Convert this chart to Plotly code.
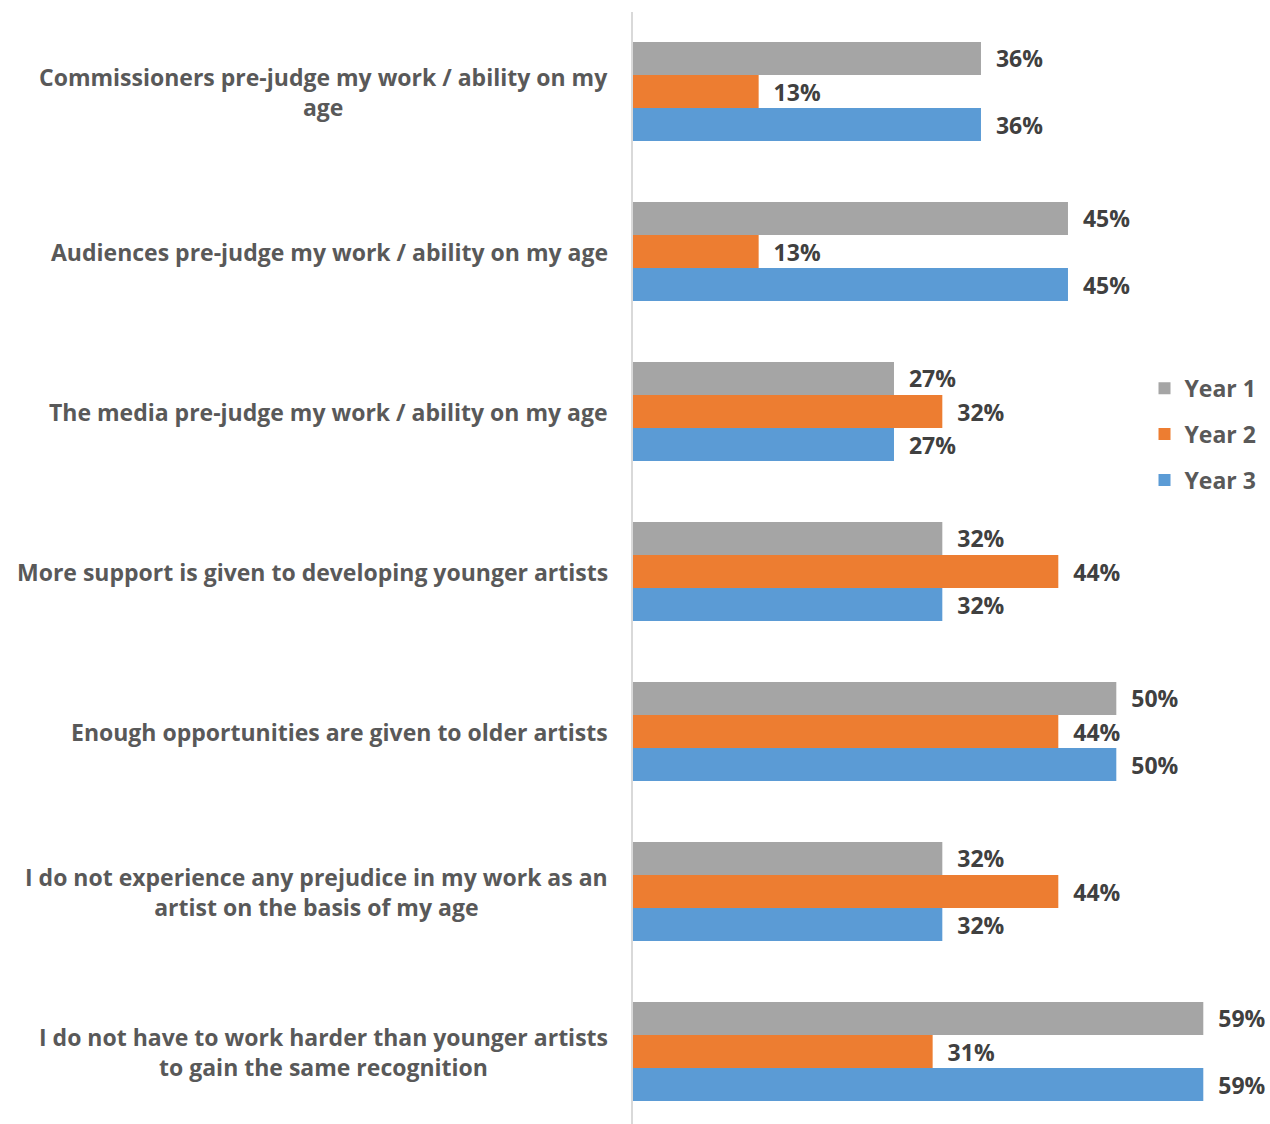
import plotly.graph_objects as go

# Survey statements (top to bottom) and share agreeing per year (%)
categories = [
    "Commissioners pre-judge my work / ability on my<br>age",
    "Audiences pre-judge my work / ability on my age",
    "The media pre-judge my work / ability on my age",
    "More support is given to developing younger artists",
    "Enough opportunities are given to older artists",
    "I do not experience any prejudice in my work as an<br>artist on the basis of my age",
    "I do not have to work harder than younger artists<br>to gain the same recognition",
]
year1 = [36, 45, 27, 32, 50, 32, 59]
year2 = [13, 13, 32, 44, 44, 44, 31]
year3 = [36, 45, 27, 32, 50, 32, 59]

series = [
    ("Year 1", year1, "#A5A5A5"),
    ("Year 2", year2, "#ED7D31"),
    ("Year 3", year3, "#5B9BD5"),
]

FONT = "Open Sans"
TEXT_GREY = "#595959"
LABEL_DARK = "#404040"

fig = go.Figure()
for name, values, color in series:
    fig.add_trace(go.Bar(
        name=name,
        y=categories,
        x=values,
        orientation="h",
        marker=dict(color=color, line=dict(width=0)),
        text=values,
        texttemplate="\u00a0\u00a0%{x}%",
        textposition="outside",
        cliponaxis=False,
        textfont=dict(family=FONT, size=23, color=LABEL_DARK, weight="bold"),
        legendgroup=name,
    ))

# Category labels: right-anchored, lines centred within each label
for cat in categories:
    fig.add_annotation(
        x=0, xref="paper", xshift=-23, xanchor="right",
        y=cat, yref="y", yanchor="middle",
        text=cat, showarrow=False, align="center",
        font=dict(family=FONT, size=23, color=TEXT_GREY, weight="bold"),
    )

fig.update_layout(
    width=1270, height=1124,
    margin=dict(l=633, r=0, t=12, b=0),
    paper_bgcolor="white", plot_bgcolor="white",
    barmode="group", bargap=0.38, bargroupgap=0,
    showlegend=True,
    legend=dict(
        x=0.803, y=0.681, xanchor="left", yanchor="top",
        font=dict(family=FONT, size=23, color=TEXT_GREY, weight="bold"),
        tracegroupgap=13, bgcolor="rgba(0,0,0,0)",
    ),
    xaxis=dict(
        range=[0, 65.9], showgrid=False, zeroline=False,
        showticklabels=False, showline=False, ticks="",
    ),
    yaxis=dict(
        type="category", categoryorder="array", categoryarray=categories,
        range=[6.453, -0.497], showgrid=False, zeroline=False,
        showticklabels=False, ticks="",
        showline=True, linecolor="#D9D9D9", linewidth=1.5,
    ),
)

fig.write_html("out.html")
